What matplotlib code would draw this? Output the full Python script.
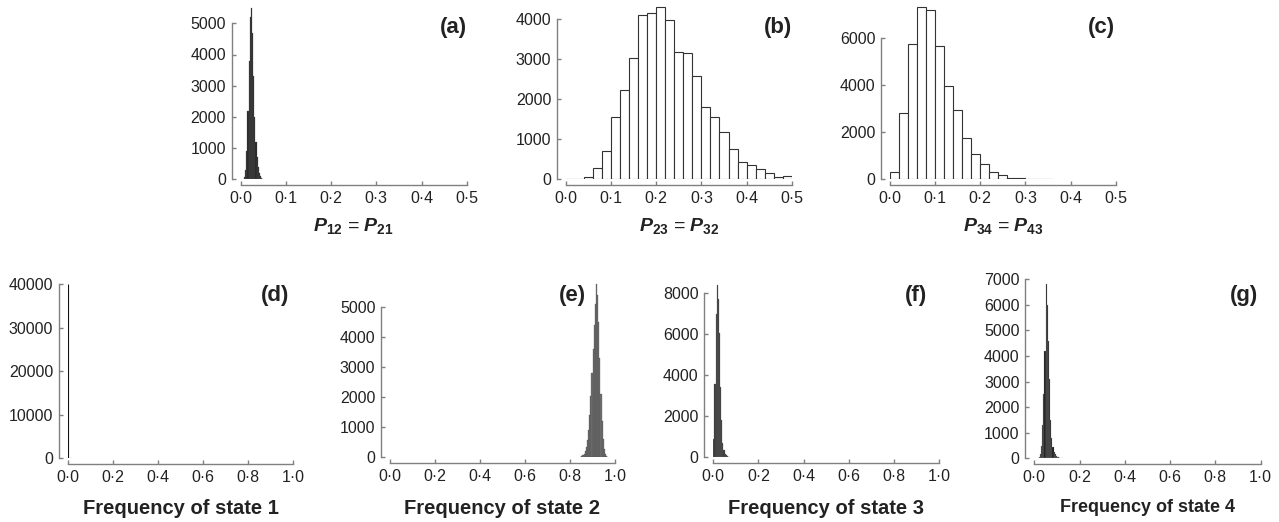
import numpy as np
import matplotlib
matplotlib.use('Agg')
import matplotlib.pyplot as plt

plt.rcParams['font.family'] = ['Liberation Sans', 'DejaVu Sans']
plt.rcParams['mathtext.fontset'] = 'custom'
plt.rcParams['mathtext.it'] = 'Liberation Sans:bold:italic'
plt.rcParams['mathtext.rm'] = 'Liberation Sans:bold'
plt.rcParams['mathtext.bf'] = 'Liberation Sans:bold'

## histogram data (left bin edges + counts)
a_w = 0.0025
a_left = np.round(np.arange(0.0075, 0.05, a_w), 4)
a_cnt = [60, 300, 900, 2200, 3800, 5200, 5500, 4700, 3300, 2000, 1200, 700, 380, 200, 100, 50, 20]

b_w = 0.02
b_left = np.round(np.arange(0.0, 0.5, b_w), 2)
b_cnt = [0, 10, 50, 290, 700, 1550, 2230, 3040, 4100, 4160, 4300, 3980, 3180, 3170,
         2590, 1820, 1550, 1180, 770, 440, 350, 250, 150, 70, 75]

c_w = 0.02
c_left = np.round(np.arange(0.0, 0.36, c_w), 2)
c_cnt = [330, 2840, 5760, 7320, 7200, 5690, 3960, 2950, 1770, 1060, 640, 300, 200, 70, 55, 30, 15, 10]

d_w = 0.002
d_left = np.round(np.arange(0.0, 0.018, d_w), 3)
d_cnt = [40000, 0, 0, 0, 0, 0, 0, 0, 0]

e_w = 0.005
e_left = np.round(np.arange(0.845, 0.97, e_w), 3)
e_cnt = [20, 40, 70, 120, 200, 330, 560, 900, 1400, 2050, 2800, 3600, 4400, 5100, 5750,
         5400, 4500, 3300, 2100, 1200, 600, 280, 120, 50, 20]

f_w = 0.005
f_left = np.round(np.arange(0.0, 0.075, f_w), 3)
f_cnt = [900, 3600, 7000, 8400, 7700, 6050, 3450, 1800, 700, 350, 180, 100, 50, 25, 10]

g_w = 0.005
g_left = np.round(np.arange(0.02, 0.125, g_w), 3)
g_cnt = [40, 150, 500, 1300, 2500, 4200, 6800, 6000, 4600, 3100, 1500, 800, 450, 250, 150,
         90, 60, 40, 25, 15, 8]

top_xticks = [0.0, 0.1, 0.2, 0.3, 0.4, 0.5]
bot_xticks = [0.0, 0.2, 0.4, 0.6, 0.8, 1.0]

W, H = 1279, 522
fig = plt.figure(figsize=[W/100, H/100], dpi=100)

def px_axes(x0, x1, y0, ytick_val, ytick_px, top_px):
    ax = fig.add_axes([x0/W, 1-y0/H, (x1-x0)/W, (y0-top_px)/H])
    ymax = ytick_val*(y0-top_px)/(y0-ytick_px)
    ax.set_ylim(0, ymax)
    return ax

def dot_fmt(v, pos=None):
    return ('%.1f' % v).replace('.', '\u00b7')

def style(ax, xticks, yticks):
    ax.set_xlim(xticks[0], xticks[-1])
    ax.set_xticks(xticks)
    ax.set_xticklabels([dot_fmt(v) for v in xticks])
    ax.set_yticks(yticks)
    ax.set_yticklabels([str(v) for v in yticks])
    for s in ['top', 'right']:
        ax.spines[s].set_visible(False)
    ax.spines['left'].set_position(('outward', 6.5))
    ax.spines['bottom'].set_position(('outward', 4))
    ax.spines['left'].set_bounds(yticks[0], yticks[-1])
    ax.spines['bottom'].set_bounds(xticks[0], xticks[-1])
    for s in ['left', 'bottom']:
        ax.spines[s].set_color('#808080')
        ax.spines[s].set_linewidth(1.0)
    ax.tick_params(axis='both', direction='in', length=3, width=1.0, color='#808080',
                   labelsize=11.5, labelcolor='#222222')
    ax.tick_params(axis='x', pad=4.5)
    ax.tick_params(axis='y', pad=4)
    ax.patch.set_visible(False)

def hist(ax, left, cnt, w, fc, ec, lw):
    ax.bar(left, cnt, width=w, align='edge', color=fc, edgecolor=ec, linewidth=lw)

# top row
ax = px_axes(240.7, 466.7, 179.3, 5000, 23.3, 3)
hist(ax, a_left, a_cnt, a_w, '#262626', '#555555', 0.2)
style(ax, top_xticks, [0, 1000, 2000, 3000, 4000, 5000])

ax = px_axes(566, 791.7, 179.3, 4000, 19.3, 3)
hist(ax, b_left, b_cnt, b_w, 'white', '#333333', 0.8)
style(ax, top_xticks, [0, 1000, 2000, 3000, 4000])

ax = px_axes(890, 1115.7, 179.3, 6000, 38.3, 3)
hist(ax, c_left, c_cnt, c_w, 'white', '#333333', 0.8)
style(ax, top_xticks, [0, 2000, 4000, 6000])

# bottom row
ax = px_axes(67.7, 293.3, 458.3, 40000, 284, 265)
hist(ax, d_left, d_cnt, d_w, '#111111', '#111111', 0.8)
style(ax, bot_xticks, [0, 10000, 20000, 30000, 40000])

ax = px_axes(390, 615, 457.3, 5000, 306.7, 265)
hist(ax, e_left, e_cnt, e_w, '#707070', '#4a4a4a', 0.2)
style(ax, bot_xticks, [0, 1000, 2000, 3000, 4000, 5000])

ax = px_axes(713.3, 939, 457.3, 8000, 293.3, 265)
hist(ax, f_left, f_cnt, f_w, '#383838', '#666666', 0.2)
style(ax, bot_xticks, [0, 2000, 4000, 6000, 8000])

ax = px_axes(1034.3, 1260.7, 458.3, 7000, 279.3, 265)
hist(ax, g_left, g_cnt, g_w, '#141414', '#999999', 0.2)
style(ax, bot_xticks, [0, 1000, 2000, 3000, 4000, 5000, 6000, 7000])

## panel letters
letters = [('(a)', 467, 27), ('(b)', 792, 28), ('(c)', 1115, 28), ('(d)', 289, 295),
           ('(e)', 586, 295), ('(f)', 927, 295), ('(g)', 1258, 296)]
for t, x, y in letters:
    fig.text(x/W, 1-y/H, t, ha='right', va='center', fontsize=16, fontweight='bold', color='#222222')

## axis labels
top_labels = [(r'$P_{12}$ = $P_{21}$', 353.7), (r'$P_{23}$ = $P_{32}$', 678.9), (r'$P_{34}$ = $P_{43}$', 1002.9)]
for t, x in top_labels:
    fig.text(x/W, 1-216/H, t, ha='center', va='top', fontsize=14, color='#222222')

bot_labels = [('Frequency of state 1', 180.5, 14.5), ('Frequency of state 2', 502.5, 14.5),
              ('Frequency of state 3', 826.2, 14.5), ('Frequency of state 4', 1147.5, 13)]
for t, x, fs in bot_labels:
    fig.text(x/W, 1-499/H, t, ha='center', va='top', fontsize=fs, fontweight='bold', color='#222222')

fig.savefig('out.png', dpi=100)
